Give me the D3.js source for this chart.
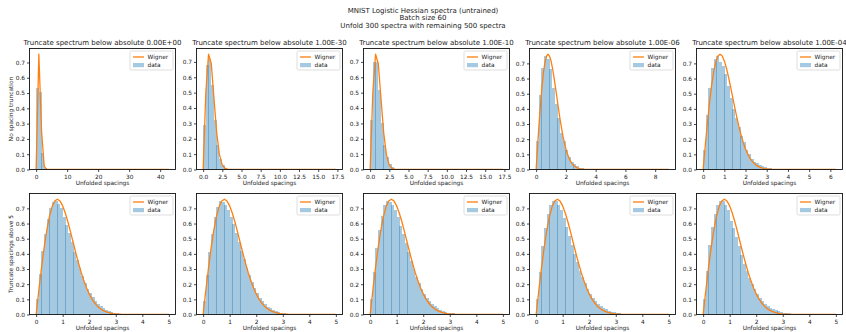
<!DOCTYPE html>
<html><head><meta charset="utf-8">
<script src="https://cdn.jsdelivr.net/npm/d3@7"></script>
<style>
body{margin:0;background:#fff}
svg{display:block}
text{font-family:"DejaVu Sans",sans-serif;fill:#1a1a1a}
</style>
</head><body>
<svg id="c" width="846" height="332"></svg>
<script>
// ---------------- DATA ----------------
const suptitleLines = ["MNIST Logistic Hessian spectra (untrained)", "Batch size 60", "Unfold 300 spectra with remaining 500 spectra"];
const panelTitles = ["Truncate spectrum below absolute 0.00E+00", "Truncate spectrum below absolute 1.00E-30",
  "Truncate spectrum below absolute 1.00E-10", "Truncate spectrum below absolute 1.00E-06", "Truncate spectrum below absolute 1.00E-04"];
const rowLabels = ["No spacing truncation", "Truncate spacings above 5"];
const xLabel = "Unfolded spacings";
const legendLabels = ["Wigner", "data"];

// max unfolded spacing per panel (histogram range 0..max, 50 bins)
const xMaxRow1 = [42.8, 17.3, 17.3, 8.92, 6.26];
const xMaxRow2 = [5, 5, 5, 5, 5];
const xTicksRow1 = [[0, 10, 20, 30, 40], [0, 2.5, 5, 7.5, 10, 12.5, 15, 17.5], [0, 2.5, 5, 7.5, 10, 12.5, 15, 17.5], [0, 2, 4, 6, 8], [0, 1, 2, 3, 4, 5, 6]];
const xTicksRow2 = [0, 1, 2, 3, 4, 5];
const yTicks = [0, 0.1, 0.2, 0.3, 0.4, 0.5, 0.6, 0.7];

// histogram densities (50 bins each)
const histR1P1 = [0.53,0.51,0.11,0.012,0.003,0.001,0,0,0,0, 0,0,0,0,0,0,0,0,0,0, 0,0,0,0,0,0,0,0,0,0, 0,0,0,0,0,0,0,0,0,0, 0,0,0,0,0,0,0,0,0,0.0005];
const histR1P2 = [0.29,0.68,0.72,0.55,0.32,0.16,0.07,0.03,0.012,0.005, 0.002,0.001,0.001,0,0,0,0,0,0,0, 0,0,0,0,0,0,0,0,0,0, 0,0,0,0,0,0,0,0,0,0, 0,0,0,0,0,0,0,0,0,0.0005];
const histR1P3 = [0.32,0.70,0.70,0.52,0.30,0.16,0.08,0.035,0.015,0.006, 0.002,0.001,0.001,0,0,0,0,0,0,0, 0,0,0,0,0,0,0,0,0,0, 0,0,0,0,0,0,0,0,0,0, 0,0,0,0,0,0,0,0,0,0.0005];
const histR1P4 = [0.19,0.49,0.67,0.75,0.73,0.66,0.54,0.43,0.34,0.24, 0.19,0.13,0.08,0.05,0.035,0.02,0.013,0.01,0.006,0.004, 0.003,0.002,0.0015,0.001,0.001,0.0008,0.0006,0.0005,0.0004,0.0003, 0.0003,0.0002,0.0002,0.0002,0.0001,0.0001,0.0001,0.0001,0.0001,0.0001, 0.0001,0.0001,0.0001,0.0001,0.0001,0.0001,0.0001,0.0001,0.0001,0.0001];
const histR1P5 = [0.13,0.36,0.54,0.67,0.73,0.75,0.71,0.68,0.63,0.55, 0.47,0.40,0.34,0.28,0.22,0.18,0.13,0.10,0.07,0.05, 0.04,0.03,0.02,0.015,0.01,0.01,0.006,0.004,0.003,0.002, 0.0015,0.001,0.001,0.0008,0.0006,0.0005,0.0004,0.0003,0.0003,0.0002, 0.0002,0.0002,0.0001,0.0001,0.0001,0.0001,0.0001,0.0001,0.0001,0.0001];
const histR2P1 = [0.10,0.27,0.42,0.53,0.63,0.70,0.74,0.75,0.73,0.70, 0.64,0.59,0.535,0.475,0.415,0.36,0.305,0.255,0.21,0.17, 0.145,0.115,0.09,0.07,0.054,0.041,0.031,0.023,0.017,0.012, 0.009,0.0065,0.0047,0.0034,0.0025,0.0018,0.0013,0.001,0.0008,0.0006, 0.0005,0.0004,0.0003,0.0003,0.0002,0.0002,0.0002,0.0001,0.0001,0.0001];
const histR2P2 = [0.09,0.26,0.41,0.53,0.64,0.71,0.75,0.74,0.72,0.69, 0.645,0.595,0.54,0.48,0.42,0.365,0.31,0.26,0.215,0.175, 0.14,0.112,0.088,0.068,0.052,0.04,0.03,0.022,0.016,0.012, 0.0085,0.006,0.0045,0.0032,0.0023,0.0017,0.0012,0.0009,0.0007,0.0005, 0.0004,0.0003,0.0003,0.0002,0.0002,0.0002,0.0001,0.0001,0.0001,0.0001];
const histR2P3 = [0.10,0.28,0.44,0.56,0.65,0.72,0.75,0.74,0.72,0.69, 0.64,0.585,0.53,0.47,0.41,0.355,0.30,0.25,0.21,0.17, 0.138,0.11,0.087,0.068,0.053,0.041,0.031,0.024,0.018,0.013, 0.0095,0.007,0.005,0.0037,0.0027,0.002,0.0015,0.0011,0.0008,0.0006, 0.0005,0.0004,0.0003,0.0003,0.0002,0.0002,0.0001,0.0001,0.0001,0.0001];
const histR2P4 = [0.10,0.28,0.45,0.57,0.66,0.72,0.75,0.75,0.72,0.69, 0.635,0.58,0.52,0.46,0.40,0.345,0.29,0.245,0.205,0.168, 0.136,0.11,0.087,0.068,0.054,0.042,0.033,0.025,0.019,0.014, 0.0105,0.0078,0.0057,0.0042,0.0031,0.0023,0.0017,0.0012,0.0009,0.0007, 0.0005,0.0004,0.0003,0.0003,0.0002,0.0002,0.0001,0.0001,0.0001,0.0001];
const histR2P5 = [0.10,0.29,0.46,0.58,0.66,0.72,0.75,0.75,0.72,0.69, 0.62,0.57,0.51,0.45,0.39,0.335,0.285,0.24,0.20,0.165, 0.135,0.11,0.088,0.07,0.056,0.045,0.036,0.028,0.022,0.017, 0.013,0.01,0.0075,0.0055,0.004,0.003,0.0022,0.0016,0.0012,0.0009, 0.0007,0.0005,0.0004,0.0003,0.0003,0.0002,0.0002,0.0001,0.0001,0.0001];

// Wigner surmise curve values (tabulated), fine sampling
const wignerS = [0,0.1,0.2,0.3,0.4,0.5,0.6,0.7,0.8,0.9,1.0,1.1,1.2,1.3,1.4,1.5,1.6,1.7,1.8,1.9,2.0,2.1,2.2,2.3,2.4,2.5,2.6,2.7,2.8,2.9,3.0,3.2,3.4,3.6,4.0];
const wignerP = [0,0.1559,0.3044,0.4391,0.5541,0.6454,0.7104,0.7483,0.7602,0.7483,0.7162,0.6680,0.6083,0.5415,0.4717,0.4025,0.3365,0.2759,0.2220,0.1753,0.1358,0.1033,0.0772,0.0567,0.0409,0.0290,0.0202,0.0138,0.0093,0.0062,0.0040,0.0016,0.0006,0.0002,0];
// coarse sampling of the Wigner curve in panel 1 (range 0..42.8)
const wignerCoarse1S = [0,0.873,1.747,2.620,3.494,4.367];
const wignerCoarse1P = [0,0.7537,0.2504,0.0188,0.0004,0];
// coarse sampling in panels 2 and 3 (range 0..17.3)
const wignerCoarse2S = [0,0.353,0.706,1.059,1.412,1.765,2.118,2.471,2.824,3.178,3.531,3.884];
const wignerCoarse2P = [0,0.5028,0.7498,0.6894,0.4634,0.2400,0.0981,0.0321,0.0085,0.0018,0.0003,0];

// ---------------- LAYOUT ----------------
const colLeft = [29.5, 196.5, 363.5, 529.5, 696.5];
const rowTop = [48.5, 193.5];
const axW = 146, axH = 121;
const BLUE = "#1f77b4", ORANGE = "#ff7f0e";
const FS = 5.85, TFS = 7;

const svg = d3.select("#c");

suptitleLines.forEach((t, i) => {
  svg.append("text").attr("x", 423).attr("y", 12.6 + i * 7.8)
    .attr("text-anchor", "middle").attr("font-size", TFS).text(t);
});

const hists = [[histR1P1, histR1P2, histR1P3, histR1P4, histR1P5], [histR2P1, histR2P2, histR2P3, histR2P4, histR2P5]];
const xMaxes = [xMaxRow1, xMaxRow2];

function curveFor(r, c, M) {
  let S, P;
  if (r === 0 && c === 0) { S = wignerCoarse1S; P = wignerCoarse1P; }
  else if (r === 0 && (c === 1 || c === 2)) { S = wignerCoarse2S; P = wignerCoarse2P; }
  else { S = wignerS; P = wignerP; }
  const pts = [];
  S.forEach((s, i) => { if (s < M) pts.push([s, P[i]]); });
  pts.push([M, 0]);
  return pts;
}

let clipId = 0;
for (let r = 0; r < 2; r++) {
  for (let c = 0; c < 5; c++) {
    const L = colLeft[c], T = rowTop[r];
    const M = xMaxes[r][c];
    const h = hists[r][c];
    const n = h.length;
    const curve = curveFor(r, c, M);
    const ymax = Math.max(d3.max(h), d3.max(curve, d => d[1])) * 1.05;
    const x = d3.scaleLinear().domain([-0.05 * M, 1.05 * M]).range([L, L + axW]);
    const y = d3.scaleLinear().domain([0, ymax]).range([T + axH, T]);
    const g = svg.append("g");
    const cid = "clip" + (clipId++);
    g.append("clipPath").attr("id", cid).append("rect")
      .attr("x", L).attr("y", T).attr("width", axW).attr("height", axH);
    const plot = g.append("g").attr("clip-path", `url(#${cid})`);

    // bars
    const bw = M / n;
    plot.selectAll("rect.bar").data(h).enter().append("rect")
      .attr("class", "bar")
      .attr("x", (d, i) => Math.round(x(i * bw)))
      .attr("width", (d, i) => Math.max(0, Math.round(x((i + 1) * bw) + 0.2) - Math.round(x(i * bw))))
      .attr("y", d => y(d))
      .attr("height", d => Math.max(0, y(0) - y(d)))
      .attr("fill", BLUE).attr("fill-opacity", 0.4)
      .attr("shape-rendering", "crispEdges");

    // Wigner curve
    plot.append("path").datum(curve)
      .attr("d", d3.line().x(d => x(d[0])).y(d => y(d[1])))
      .attr("fill", "none").attr("stroke", ORANGE).attr("stroke-width", 1.3)
      .attr("stroke-linejoin", "round");

    // axes
    const ticks = r === 0 ? xTicksRow1[c] : xTicksRow2;
    const fmt = (r === 0 && (c === 1 || c === 2)) ? d3.format(".1f") : d3.format("d");
    const xa = g.append("g").attr("transform", `translate(0,${T + axH})`)
      .call(d3.axisBottom(x).tickValues(ticks).tickFormat(fmt).tickSize(2.5).tickPadding(2.5));
    const ya = g.append("g").attr("transform", `translate(${L},0)`)
      .call(d3.axisLeft(y).tickValues(yTicks).tickFormat(d3.format(".1f")).tickSize(2.5).tickPadding(2));
    [xa, ya].forEach(a => {
      a.select(".domain").remove();
      a.selectAll("text").attr("font-size", FS).attr("font-family", "DejaVu Sans").attr("fill", "#1a1a1a");
      a.selectAll("line").attr("stroke", "#1a1a1a").attr("stroke-width", 0.8);
    });

    // spines
    g.append("rect").attr("x", L).attr("y", T).attr("width", axW).attr("height", axH)
      .attr("fill", "none").attr("stroke", "#111").attr("stroke-width", 0.9);

    // labels
    g.append("text").attr("x", L + axW / 2).attr("y", T + axH + 15)
      .attr("text-anchor", "middle").attr("font-size", FS).text(xLabel);
    if (r === 0) {
      g.append("text").attr("x", L + axW / 2).attr("y", T - 3.6)
        .attr("text-anchor", "middle").attr("font-size", TFS).text(panelTitles[c]);
    }
    if (c === 0) {
      g.append("text").attr("transform", `translate(${L - 16.5},${T + axH / 2}) rotate(-90)`)
        .attr("text-anchor", "middle").attr("font-size", FS).text(rowLabels[r]);
    }

    // legend
    const lw = 43, lh = 19;
    const lx = L + axW - 2.5 - lw, ly = T + 2.5;
    g.append("rect").attr("x", lx).attr("y", ly).attr("width", lw).attr("height", lh)
      .attr("rx", 1.5).attr("fill", "#fff").attr("fill-opacity", 0.8)
      .attr("stroke", "#d0d0d0").attr("stroke-width", 0.7);
    g.append("line").attr("x1", lx + 3).attr("x2", lx + 14).attr("y1", ly + 6).attr("y2", ly + 6)
      .attr("stroke", ORANGE).attr("stroke-width", 1.3);
    g.append("text").attr("x", lx + 17.5).attr("y", ly + 8).attr("font-size", FS).text(legendLabels[0]);
    g.append("rect").attr("x", lx + 3).attr("y", ly + 12).attr("width", 11).attr("height", 4.2)
      .attr("fill", BLUE).attr("fill-opacity", 0.4);
    g.append("text").attr("x", lx + 17.5).attr("y", ly + 16.2).attr("font-size", FS).text(legendLabels[1]);
  }
}
</script>
</body></html>
